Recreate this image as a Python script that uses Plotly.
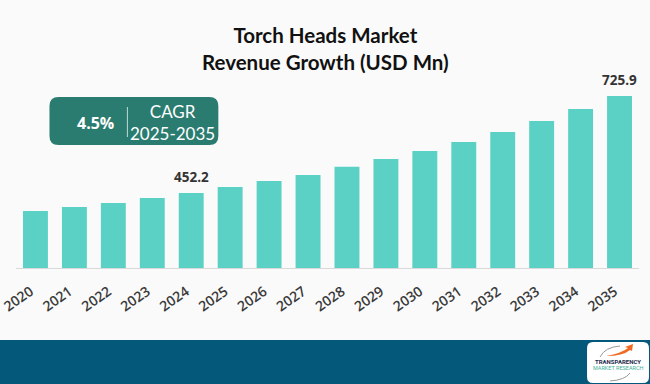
import plotly.graph_objects as go

# ---- data ----
years = [str(y) for y in range(2020, 2036)]
revenue = [401.5, 412.8, 424.1, 438.2, 452.2, 469.3, 486.2, 503.1,
           526.5, 548.3, 570.8, 596.2, 624.4, 655.5, 689.3, 725.9]
label_years = ["2024", "2035"]
title_lines = ["Torch Heads Market", "Revenue Growth (USD Mn)"]
cagr_value = "4.5%"
cagr_label = ["CAGR", "2025-2035"]

W, H = 650, 384
PL, PR = 15.5, 639.0      # plot area pixel extents
PT, PB = 80.0, 268.0
Y0, Y1 = 240.7, 240.7 + (PB - PT) / 0.3544


def px(x):
    return (x - PL) / (PR - PL)


def py(y):
    return (PB - y) / (PB - PT)


def rounded_rect(x0, y0, x1, y1, r):
    X = px
    Yf = py
    return (f"M {X(x0 + r)} {Yf(y0)} L {X(x1 - r)} {Yf(y0)} "
            f"Q {X(x1)} {Yf(y0)} {X(x1)} {Yf(y0 + r)} "
            f"L {X(x1)} {Yf(y1 - r)} Q {X(x1)} {Yf(y1)} {X(x1 - r)} {Yf(y1)} "
            f"L {X(x0 + r)} {Yf(y1)} Q {X(x0)} {Yf(y1)} {X(x0)} {Yf(y1 - r)} "
            f"L {X(x0)} {Yf(y0 + r)} Q {X(x0)} {Yf(y0)} {X(x0 + r)} {Yf(y0)} Z")


fig = go.Figure()
fig.add_trace(go.Bar(
    x=years, y=revenue, marker=dict(color="#5bd1c5", line=dict(width=0)),
    hoverinfo="x+y",
))

annotations = []
for yr in label_years:
    i = years.index(yr)
    v = revenue[i]
    annotations.append(dict(
        x=i, y=v, xref="x", yref="y", text=f"<b>{v:.1f}</b>", showarrow=False,
        xanchor="center", yanchor="bottom", yshift=5,
        font=dict(family="Open Sans", size=13.5, color="#333333"),
    ))

# title
annotations.append(dict(
    x=px(325), y=py(49), xref="paper", yref="paper",
    text="<br>".join(f"<b>{t}</b>" for t in title_lines), showarrow=False,
    xanchor="center", yanchor="middle",
    font=dict(family="Lato", size=20.5, color="#111111"),
))
# CAGR box texts
annotations.append(dict(
    x=px(95), y=py(123), xref="paper", yref="paper", text=f"<b>{cagr_value}</b>",
    showarrow=False, xanchor="center", yanchor="middle",
    font=dict(family="Open Sans", size=16, color="#ffffff"),
))
annotations.append(dict(
    x=px(172), y=py(122), xref="paper", yref="paper", text="<br>".join(cagr_label),
    showarrow=False, xanchor="center", yanchor="middle",
    font=dict(family="Lato", size=17, color="#ffffff"),
))
# logo texts
annotations.append(dict(
    x=px(618), y=py(361), xref="paper", yref="paper", text="<b>TRANSPARENCY</b>",
    showarrow=False, xanchor="center", yanchor="middle",
    font=dict(family="Roboto", size=6, color="#1b2a4a"),
))
annotations.append(dict(
    x=px(618), y=py(368), xref="paper", yref="paper", text="MARKET RESEARCH",
    showarrow=False, xanchor="center", yanchor="middle",
    font=dict(family="Roboto", size=5.5, color="#3fb09a"),
))

shapes = [
    # bottom band
    dict(type="rect", xref="paper", yref="paper", x0=px(-5), x1=px(660),
         y0=py(340), y1=py(390), fillcolor="#04587a", line=dict(width=0), layer="below"),
    # logo box
    dict(type="path", xref="paper", yref="paper", path=rounded_rect(587, 342, 649, 383, 6),
         fillcolor="#ffffff", line=dict(width=0)),
    # logo arrow (orange)
    dict(type="path", xref="paper", yref="paper",
         path=f"M {px(606)} {py(356)} Q {px(622)} {py(353)} {px(628)} {py(348)} "
              f"L {px(625)} {py(347)} L {px(633)} {py(344)} L {px(632)} {py(351)} "
              f"L {px(630)} {py(350)} Q {px(623)} {py(356)} {px(606)} {py(356)} Z",
         fillcolor="#f26a21", line=dict(width=0)),
    dict(type="path", xref="paper", yref="paper",
         path=f"M {px(600)} {py(357)} Q {px(605)} {py(347)} {px(620)} {py(346)}",
         line=dict(color="#9a9a9a", width=1)),
    dict(type="path", xref="paper", yref="paper",
         path=f"M {px(630)} {py(373)} Q {px(625)} {py(380)} {px(610)} {py(381)}",
         line=dict(color="#9a9a9a", width=1)),
    # CAGR box
    dict(type="path", xref="paper", yref="paper", path=rounded_rect(49, 97, 218, 145, 9),
         fillcolor="#2b7c70", line=dict(width=0)),
    # divider
    dict(type="line", xref="paper", yref="paper", x0=px(127), x1=px(127),
         y0=py(107), y1=py(137), line=dict(color="rgba(255,255,255,0.7)", width=1)),
]

fig.update_layout(
    width=W, height=H,
    margin=dict(l=PL, r=W - PR, t=PT, b=H - PB, pad=0, autoexpand=False),
    paper_bgcolor="#fafafa", plot_bgcolor="#fafafa",
    bargap=0.36, showlegend=False,
    annotations=annotations, shapes=shapes,
    xaxis=dict(
        type="category", range=[-0.5, 15.5], showgrid=False, zeroline=False,
        showline=True, linecolor="#d9d9d9", linewidth=1, automargin=False,
        tickangle=-35, ticks="outside", ticklen=9, tickcolor="rgba(0,0,0,0)",
        ticklabelshift=-5,
        tickfont=dict(family="Open Sans", size=14, color="#3a3a3a", weight=600),
    ),
    yaxis=dict(range=[Y0, Y1], visible=False, automargin=False),
)

fig.write_html(
    "out.html",
    config={"displayModeBar": False},
    post_script="document.body.style.margin='0';document.body.style.overflow='hidden';",
)
